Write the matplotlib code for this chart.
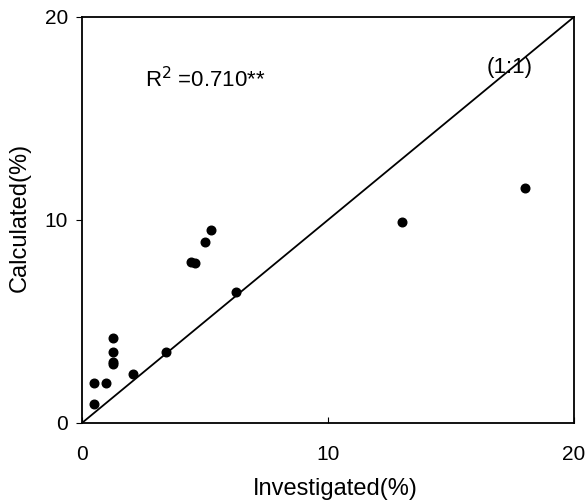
import matplotlib
matplotlib.use("Agg")
import matplotlib.pyplot as plt

investigated = [4.58, 4.45, 6.25, 1.27, 1.27, 1.27, 1.27, 3.40, 2.06, 0.49, 0.96, 0.49, 5.00, 5.26, 13.02, 18.03]
calculated   = [7.90, 7.95, 6.45, 4.20, 3.50, 2.91, 3.02, 3.48, 2.41, 1.95, 1.95, 0.92, 8.90, 9.51, 9.92, 11.60]
one_to_one = [0, 20]
xticks = [0, 10, 20]
yticks = [0, 10, 20]

plt.rcParams['font.family'] = ['Liberation Sans', 'DejaVu Sans']
fig = plt.figure(figsize=(5.85, 5.0), dpi=100)
ax = fig.add_axes([0.140, 0.154, 0.841, 0.812])
ax.plot(one_to_one, one_to_one, color='black', lw=1.3)
ax.plot(investigated, calculated, 'o', color='black', markersize=6.2, clip_on=False)
ax.set_xlim(0, 20)
ax.set_ylim(0, 20)
ax.set_xticks(xticks)
ax.set_yticks(yticks)
ax.tick_params(axis='x', direction='in', length=4, pad=16, labelsize=15)
ax.tick_params(axis='y', direction='out', length=4, pad=6, labelsize=15)
for s in ax.spines.values():
    s.set_linewidth(1.3)
ax.set_xlabel('Investigated(%)', fontsize=17, va='center')
ax.xaxis.set_label_coords(0.516, -0.163)
ax.set_ylabel('Calculated(%)', fontsize=17, va='center')
ax.yaxis.set_label_coords(-0.126, 0.507)
ax.text(2.55, 16.9, r'R$^2$ =0.710**', fontsize=16, va='center', ha='left')
ax.text(16.45, 17.5, '(1:1)', fontsize=16, va='center', ha='left')
fig.savefig('out.png', dpi=100)
